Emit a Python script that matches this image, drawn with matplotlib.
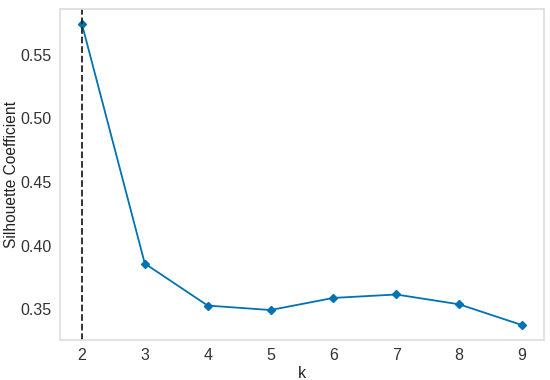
import matplotlib
matplotlib.use("Agg")
import matplotlib.pyplot as plt

plt.rcParams['font.family'] = ['Liberation Sans', 'DejaVu Sans']

k_values = [2, 3, 4, 5, 6, 7, 8, 9]
silhouette = [0.574, 0.386, 0.353, 0.3495, 0.359, 0.3617, 0.354, 0.3377]
best_k = 2

fig = plt.figure(figsize=(5.5, 3.8), dpi=100)
ax = fig.add_axes([0.109, 0.105, 0.880, 0.871])

ax.plot(k_values, silhouette, color='#0072B2', marker='D', markersize=4.5, linewidth=1.3)
ax.axvline(best_k, color='#222222', linestyle='--', linewidth=1.3)

ax.set_xlabel('k', fontsize=11.5, color='#222222', labelpad=2)
ax.set_ylabel('Silhouette Coefficient', fontsize=11.2, color='#222222', labelpad=1)
ax.set_xticks(k_values)
ax.set_yticks([0.35, 0.40, 0.45, 0.50, 0.55])
ax.tick_params(axis='both', labelsize=11.5, colors='#333333', length=0, pad=6)
for s in ax.spines.values():
    s.set_color('#dddddd')
    s.set_linewidth(1.2)
ax.grid(False)

fig.savefig('out.png', dpi=100)
